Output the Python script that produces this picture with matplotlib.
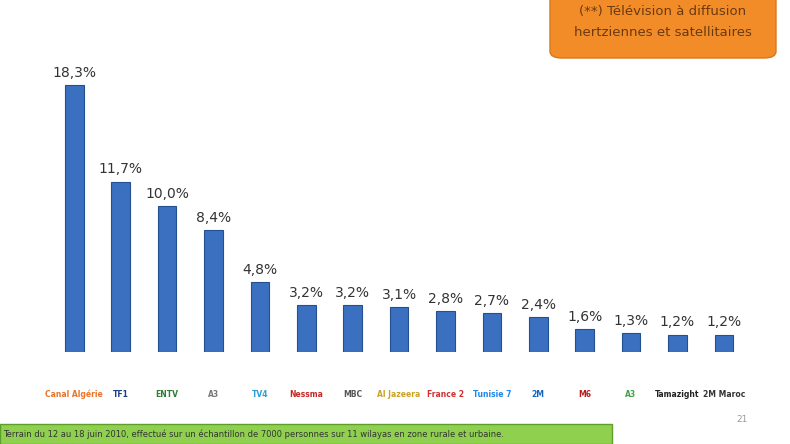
import matplotlib.pyplot as plt
from matplotlib.patches import FancyBboxPatch, Rectangle

channels = ["Canal Algérie", "TF1", "ENTV", "A3", "TV4", "Nessma", "MBC", "Al Jazeera",
            "France 2", "Tunisie 7", "2M", "M6", "A3", "Tamazight", "2M Maroc"]
values = [18.3, 11.7, 10.0, 8.4, 4.8, 3.2, 3.2, 3.1, 2.8, 2.7, 2.4, 1.6, 1.3, 1.2, 1.2]
labels = ["18,3%", "11,7%", "10,0%", "8,4%", "4,8%", "3,2%", "3,2%", "3,1%", "2,8%",
          "2,7%", "2,4%", "1,6%", "1,3%", "1,2%", "1,2%"]
logo_colors = ["#e8742a", "#1a3d8f", "#2e7d32", "#777777", "#2a9fd8", "#c62828", "#555555",
               "#c9a227", "#d32f2f", "#1e88e5", "#1565c0", "#b71c1c", "#43a047", "#222222", "#333333"]

fig = plt.figure(figsize=(7.9, 4.44), dpi=100)
ax = fig.add_axes([0.0646, 0.207, 0.881, 0.788])
x = range(len(values))
ax.bar(x, values, width=0.4, color="#3b6fc0", edgecolor="#23508f", linewidth=0.8)
for i, (v, l) in enumerate(zip(values, labels)):
    ax.text(i, v + 0.35, l, ha="center", va="bottom", fontsize=10, color="#333333")
ax.set_xlim(-0.5, len(values) - 0.5)
ax.set_ylim(0, 24)
ax.set_xticks(list(x))
ax.set_xticklabels([])
for i, (c, col) in enumerate(zip(channels, logo_colors)):
    ax.text(i, -2.9, c, ha="center", va="center", fontsize=5.5, color=col, fontweight="bold",
            clip_on=False)
ax.axis("off")

box = FancyBboxPatch((550 / 790, 1 - 58 / 444), 226 / 790, 70 / 444,
                     boxstyle="round,pad=0,rounding_size=0.015", transform=fig.transFigure,
                     facecolor="#f28c28", edgecolor="#d97718", linewidth=1)
fig.patches.append(box)
fig.text(663 / 790, 1 - 12 / 444, "(**) Télévision à diffusion", ha="center", va="center",
         fontsize=9.5, color="#6b3a10")
fig.text(663 / 790, 1 - 33 / 444, "hertziennes et satellitaires", ha="center", va="center",
         fontsize=9.5, color="#6b3a10")

foot = Rectangle((0, 0), 612 / 790, 20 / 444, transform=fig.transFigure,
                 facecolor="#8fd14f", edgecolor="#5f9e2a", linewidth=1)
fig.patches.append(foot)
fig.text(3 / 790, 10 / 444,
         "Terrain du 12 au 18 juin 2010, effectué sur un échantillon de 7000 personnes sur 11 wilayas en zone rurale et urbaine.",
         ha="left", va="center", fontsize=6, color="#333333")
fig.text(742 / 790, 25 / 444, "21", ha="center", va="center", fontsize=6.5, color="#999999")

fig.savefig("out.png", dpi=100)
